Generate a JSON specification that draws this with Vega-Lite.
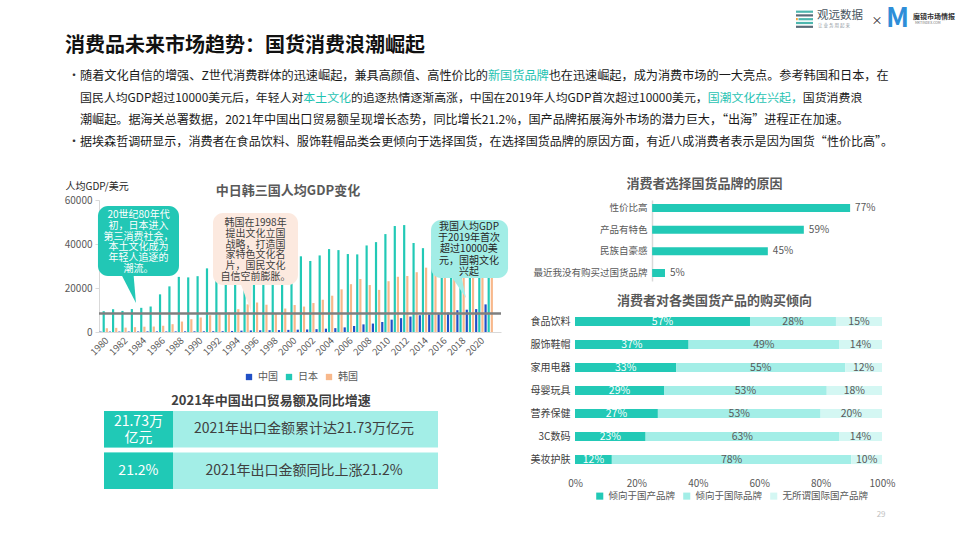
{
"$schema": "https://vega.github.io/schema/vega-lite/v6.json",
"background": "white",
"padding": {"left": 64, "top": 5, "right": 5, "bottom": 5},
"config": {"font": "Noto Sans CJK SC", "view": {"stroke": null}, "title": {"font": "Noto Sans CJK SC"}, "axis": {"labelFont": "Noto Sans CJK SC", "titleFont": "Noto Sans CJK SC"}, "legend": {"labelFont": "Noto Sans CJK SC"}},
"spacing": 17,
"resolve": {"scale": {"color": "independent", "stroke": "independent"}, "legend": {"color": "independent"}},
"vconcat": [
{
 "width": 852, "height": 155,
 "data": {"values": [
  {"line": 1, "seg": "n", "t": "随着文化自信的增强、Z世代消费群体的迅速崛起，兼具高颜值、高性价比的新国货品牌也在迅速崛起，成为消费市场的一大亮点。参考韩国和日本，在"},
  {"line": 1, "seg": "w", "t": "随着文化自信的增强、Z世代消费群体的迅速崛起，兼具高颜值、高性价比的新国货品牌"},
  {"line": 1, "seg": "h", "t": "随着文化自信的增强、Z世代消费群体的迅速崛起，兼具高颜值、高性价比的新国货品牌"},
  {"line": 1, "seg": "w", "t": "随着文化自信的增强、Z世代消费群体的迅速崛起，兼具高颜值、高性价比的"},
  {"line": 1, "seg": "n", "t": "随着文化自信的增强、Z世代消费群体的迅速崛起，兼具高颜值、高性价比的"},
  {"line": 2, "seg": "n", "t": "国民人均GDP超过10000美元后，年轻人对本土文化的追逐热情逐渐高涨，中国在2019年人均GDP首次超过10000美元，国潮文化在兴起，国货消费浪"},
  {"line": 2, "seg": "w", "t": "国民人均GDP超过10000美元后，年轻人对本土文化的追逐热情逐渐高涨，中国在2019年人均GDP首次超过10000美元，国潮文化在兴起，"},
  {"line": 2, "seg": "h", "t": "国民人均GDP超过10000美元后，年轻人对本土文化的追逐热情逐渐高涨，中国在2019年人均GDP首次超过10000美元，国潮文化在兴起，"},
  {"line": 2, "seg": "w", "t": "国民人均GDP超过10000美元后，年轻人对本土文化的追逐热情逐渐高涨，中国在2019年人均GDP首次超过10000美元，"},
  {"line": 2, "seg": "n", "t": "国民人均GDP超过10000美元后，年轻人对本土文化的追逐热情逐渐高涨，中国在2019年人均GDP首次超过10000美元，"},
  {"line": 2, "seg": "w", "t": "国民人均GDP超过10000美元后，年轻人对本土文化"},
  {"line": 2, "seg": "h", "t": "国民人均GDP超过10000美元后，年轻人对本土文化"},
  {"line": 2, "seg": "w", "t": "国民人均GDP超过10000美元后，年轻人对"},
  {"line": 2, "seg": "n", "t": "国民人均GDP超过10000美元后，年轻人对"},
  {"line": 3, "seg": "n", "t": "潮崛起。据海关总署数据，2021年中国出口贸易额呈现增长态势，同比增长21.2%，国产品牌拓展海外市场的潜力巨大，“出海”进程正在加速。"},
  {"line": 4, "seg": "n", "t": "据埃森哲调研显示，消费者在食品饮料、服饰鞋帽品类会更倾向于选择国货，在选择国货品牌的原因方面，有近八成消费者表示是因为国货“性价比高”。"}
 ]},
 "layer": [
  {"data": {"values": [{}]}, "mark": {"type": "text", "text": "消费品未来市场趋势：国货消费浪潮崛起", "fontSize": 20, "fontWeight": "bold", "align": "left", "baseline": "middle", "color": "#111111"},
   "encoding": {"x": {"datum": 1, "type": "quantitative", "scale": {"domain": [35, 887], "nice": false, "zero": false}, "axis": null}, "y": {"datum": 40, "type": "quantitative", "scale": {"domain": [0, 155], "nice": false, "zero": false, "reverse": true}, "axis": null}}},
  {"data": {"values": [{}]}, "mark": {"type": "text", "text": "•", "fontSize": 12, "align": "left", "baseline": "middle", "color": "#333333"},
   "encoding": {"x": {"datum": 4, "type": "quantitative"}, "y": {"datum": 70, "type": "quantitative"}}},
  {"data": {"values": [{}]}, "mark": {"type": "text", "text": "•", "fontSize": 12, "align": "left", "baseline": "middle", "color": "#333333"},
   "encoding": {"x": {"datum": 4, "type": "quantitative"}, "y": {"datum": 136, "type": "quantitative"}}},
  {"transform": [{"filter": "datum.line == 1"}], "mark": {"type": "text", "align": "left", "baseline": "middle", "fontSize": 12.15, "strokeWidth": 1.4},
   "encoding": {"x": {"datum": 16, "type": "quantitative"}, "y": {"datum": 70, "type": "quantitative"}, "text": {"field": "t"},
    "color": {"field": "seg", "type": "nominal", "scale": {"domain": ["n", "h", "w"], "range": ["#1a1a1a", "#1FC3B2", "#FFFFFF"]}, "legend": null},
    "stroke": {"field": "seg", "type": "nominal", "scale": {"domain": ["n", "h", "w"], "range": ["transparent", "transparent", "#FFFFFF"]}, "legend": null}}},
  {"transform": [{"filter": "datum.line == 2"}], "mark": {"type": "text", "align": "left", "baseline": "middle", "fontSize": 11.9, "strokeWidth": 1.4},
   "encoding": {"x": {"datum": 16, "type": "quantitative"}, "y": {"datum": 92, "type": "quantitative"}, "text": {"field": "t"},
    "color": {"field": "seg", "type": "nominal", "legend": null},
    "stroke": {"field": "seg", "type": "nominal", "legend": null}}},
  {"transform": [{"filter": "datum.line == 3"}], "mark": {"type": "text", "align": "left", "baseline": "middle", "fontSize": 12.1},
   "encoding": {"x": {"datum": 16, "type": "quantitative"}, "y": {"datum": 114, "type": "quantitative"}, "text": {"field": "t"}, "color": {"field": "seg", "type": "nominal", "legend": null}}},
  {"transform": [{"filter": "datum.line == 4"}], "mark": {"type": "text", "align": "left", "baseline": "middle", "fontSize": 12.05},
   "encoding": {"x": {"datum": 16, "type": "quantitative"}, "y": {"datum": 136, "type": "quantitative"}, "text": {"field": "t"}, "color": {"field": "seg", "type": "nominal", "legend": null}}},
  {"data": {"values": [{}]}, "mark": {"type": "rule", "color": "#4DB6AE", "strokeWidth": 2.2}, "encoding": {"x": {"datum": 732, "type": "quantitative"}, "x2": {"datum": 749}, "y": {"datum": 5.7, "type": "quantitative"}}},
  {"data": {"values": [{}]}, "mark": {"type": "rule", "color": "#5A6B78", "strokeWidth": 2.2}, "encoding": {"x": {"datum": 732, "type": "quantitative"}, "x2": {"datum": 749}, "y": {"datum": 9.4, "type": "quantitative"}}},
  {"data": {"values": [{}]}, "mark": {"type": "rule", "color": "#4DB6AE", "strokeWidth": 2.2}, "encoding": {"x": {"datum": 734.5, "type": "quantitative"}, "x2": {"datum": 749}, "y": {"datum": 13.2, "type": "quantitative"}}},
  {"data": {"values": [{}]}, "mark": {"type": "rule", "color": "#F2A23C", "strokeWidth": 2.2}, "encoding": {"x": {"datum": 732, "type": "quantitative"}, "x2": {"datum": 733.8}, "y": {"datum": 13.2, "type": "quantitative"}}},
  {"data": {"values": [{}]}, "mark": {"type": "rule", "color": "#4DB6AE", "strokeWidth": 2.2}, "encoding": {"x": {"datum": 732, "type": "quantitative"}, "x2": {"datum": 749}, "y": {"datum": 17, "type": "quantitative"}}},
  {"data": {"values": [{}]}, "mark": {"type": "rule", "color": "#5A6B78", "strokeWidth": 2.2}, "encoding": {"x": {"datum": 732, "type": "quantitative"}, "x2": {"datum": 749}, "y": {"datum": 20.8, "type": "quantitative"}}},
  {"data": {"values": [{}]}, "mark": {"type": "text", "text": "观远数据", "fontSize": 11.5, "align": "left", "baseline": "middle", "color": "#475560"}, "encoding": {"x": {"datum": 753, "type": "quantitative"}, "y": {"datum": 10, "type": "quantitative"}}},
  {"data": {"values": [{}]}, "mark": {"type": "text", "text": "让 业 务 用 起 来", "fontSize": 4.5, "align": "left", "baseline": "middle", "color": "#8A949C"}, "encoding": {"x": {"datum": 754, "type": "quantitative"}, "y": {"datum": 19.5, "type": "quantitative"}}},
  {"data": {"values": [{}]}, "mark": {"type": "text", "text": "×", "fontSize": 11, "align": "center", "baseline": "middle", "color": "#222222"}, "encoding": {"x": {"datum": 813, "type": "quantitative"}, "y": {"datum": 15.5, "type": "quantitative"}}},
  {"data": {"values": [{}]}, "mark": {"type": "text", "text": "M", "fontSize": 27, "fontWeight": "bold", "align": "center", "baseline": "middle", "color": "#2E8ED8"}, "encoding": {"x": {"datum": 833.5, "type": "quantitative"}, "y": {"datum": 13, "type": "quantitative"}}},
  {"data": {"values": [{}]}, "mark": {"type": "text", "text": "魔镜市场情报", "fontSize": 7, "fontWeight": "bold", "align": "left", "baseline": "middle", "color": "#333333"}, "encoding": {"x": {"datum": 849, "type": "quantitative"}, "y": {"datum": 10.7, "type": "quantitative"}}},
  {"data": {"values": [{}]}, "mark": {"type": "text", "text": "MKTINDEX.COM", "fontSize": 3.5, "align": "left", "baseline": "middle", "color": "#777777"}, "encoding": {"x": {"datum": 851, "type": "quantitative"}, "y": {"datum": 17, "type": "quantitative"}}}
 ]
},
{
 "spacing": 21,
 "resolve": {"scale": {"color": "independent"}, "legend": {"color": "independent"}},
 "hconcat": [
  {
   "spacing": 38,
   "vconcat": [
    {
     "width": 402, "height": 132,
     "title": {"text": "中日韩三国人均GDP变化", "fontSize": 13, "fontWeight": "bold", "color": "#595959", "anchor": "middle", "frame": "group", "dx": -12, "offset": -17},
     "layer": [
      {"data": {"values": [
       {"year":1980,"country":"中国","gdp":195},{"year":1980,"country":"日本","gdp":9463},{"year":1980,"country":"韩国","gdp":1715},
       {"year":1981,"country":"中国","gdp":197},{"year":1981,"country":"日本","gdp":10361},{"year":1981,"country":"韩国","gdp":1883},
       {"year":1982,"country":"中国","gdp":203},{"year":1982,"country":"日本","gdp":9578},{"year":1982,"country":"韩国","gdp":1993},
       {"year":1983,"country":"中国","gdp":225},{"year":1983,"country":"日本","gdp":10425},{"year":1983,"country":"韩国","gdp":2199},
       {"year":1984,"country":"中国","gdp":251},{"year":1984,"country":"日本","gdp":10984},{"year":1984,"country":"韩国","gdp":2413},
       {"year":1985,"country":"中国","gdp":294},{"year":1985,"country":"日本","gdp":11585},{"year":1985,"country":"韩国","gdp":2482},
       {"year":1986,"country":"中国","gdp":282},{"year":1986,"country":"日本","gdp":17112},{"year":1986,"country":"韩国","gdp":2835},
       {"year":1987,"country":"中国","gdp":252},{"year":1987,"country":"日本","gdp":20745},{"year":1987,"country":"韩国","gdp":3555},
       {"year":1988,"country":"中国","gdp":284},{"year":1988,"country":"日本","gdp":25052},{"year":1988,"country":"韩国","gdp":4754},
       {"year":1989,"country":"中国","gdp":311},{"year":1989,"country":"日本","gdp":24823},{"year":1989,"country":"韩国","gdp":5817},
       {"year":1990,"country":"中国","gdp":318},{"year":1990,"country":"日本","gdp":25371},{"year":1990,"country":"韩国","gdp":6610},
       {"year":1991,"country":"中国","gdp":333},{"year":1991,"country":"日本","gdp":28925},{"year":1991,"country":"韩国","gdp":7637},
       {"year":1992,"country":"中国","gdp":366},{"year":1992,"country":"日本","gdp":31465},{"year":1992,"country":"韩国","gdp":8127},
       {"year":1993,"country":"中国","gdp":377},{"year":1993,"country":"日本","gdp":35766},{"year":1993,"country":"韩国","gdp":8885},
       {"year":1994,"country":"中国","gdp":473},{"year":1994,"country":"日本","gdp":39269},{"year":1994,"country":"韩国","gdp":10385},
       {"year":1995,"country":"中国","gdp":610},{"year":1995,"country":"日本","gdp":44198},{"year":1995,"country":"韩国","gdp":12565},
       {"year":1996,"country":"中国","gdp":709},{"year":1996,"country":"日本","gdp":38437},{"year":1996,"country":"韩国","gdp":13403},
       {"year":1997,"country":"中国","gdp":782},{"year":1997,"country":"日本","gdp":35022},{"year":1997,"country":"韩国","gdp":12398},
       {"year":1998,"country":"中国","gdp":829},{"year":1998,"country":"日本","gdp":31903},{"year":1998,"country":"韩国","gdp":8282},
       {"year":1999,"country":"中国","gdp":873},{"year":1999,"country":"日本","gdp":36027},{"year":1999,"country":"韩国","gdp":10672},
       {"year":2000,"country":"中国","gdp":959},{"year":2000,"country":"日本","gdp":39169},{"year":2000,"country":"韩国","gdp":12257},
       {"year":2001,"country":"中国","gdp":1053},{"year":2001,"country":"日本","gdp":34406},{"year":2001,"country":"韩国","gdp":11561},
       {"year":2002,"country":"中国","gdp":1149},{"year":2002,"country":"日本","gdp":32289},{"year":2002,"country":"韩国","gdp":13165},
       {"year":2003,"country":"中国","gdp":1289},{"year":2003,"country":"日本","gdp":34808},{"year":2003,"country":"韩国","gdp":14673},
       {"year":2004,"country":"中国","gdp":1509},{"year":2004,"country":"日本","gdp":37688},{"year":2004,"country":"韩国","gdp":16496},
       {"year":2005,"country":"中国","gdp":1753},{"year":2005,"country":"日本","gdp":37218},{"year":2005,"country":"韩国","gdp":19403},
       {"year":2006,"country":"中国","gdp":2099},{"year":2006,"country":"日本","gdp":35434},{"year":2006,"country":"韩国","gdp":21743},
       {"year":2007,"country":"中国","gdp":2694},{"year":2007,"country":"日本","gdp":35275},{"year":2007,"country":"韩国","gdp":24086},
       {"year":2008,"country":"中国","gdp":3468},{"year":2008,"country":"日本","gdp":39339},{"year":2008,"country":"韩国","gdp":21350},
       {"year":2009,"country":"中国","gdp":3832},{"year":2009,"country":"日本","gdp":40855},{"year":2009,"country":"韩国","gdp":19144},
       {"year":2010,"country":"中国","gdp":4550},{"year":2010,"country":"日本","gdp":44508},{"year":2010,"country":"韩国","gdp":23087},
       {"year":2011,"country":"中国","gdp":5614},{"year":2011,"country":"日本","gdp":48168},{"year":2011,"country":"韩国","gdp":25100},
       {"year":2012,"country":"中国","gdp":6301},{"year":2012,"country":"日本","gdp":48603},{"year":2012,"country":"韩国","gdp":25459},
       {"year":2013,"country":"中国","gdp":7020},{"year":2013,"country":"日本","gdp":40454},{"year":2013,"country":"韩国","gdp":27180},
       {"year":2014,"country":"中国","gdp":7636},{"year":2014,"country":"日本","gdp":38109},{"year":2014,"country":"韩国","gdp":29253},
       {"year":2015,"country":"中国","gdp":8016},{"year":2015,"country":"日本","gdp":34524},{"year":2015,"country":"韩国","gdp":28737},
       {"year":2016,"country":"中国","gdp":8094},{"year":2016,"country":"日本","gdp":38794},{"year":2016,"country":"韩国","gdp":29274},
       {"year":2017,"country":"中国","gdp":8817},{"year":2017,"country":"日本","gdp":38387},{"year":2017,"country":"韩国","gdp":31601},
       {"year":2018,"country":"中国","gdp":9905},{"year":2018,"country":"日本","gdp":39159},{"year":2018,"country":"韩国","gdp":33447},
       {"year":2019,"country":"中国","gdp":10144},{"year":2019,"country":"日本","gdp":40247},{"year":2019,"country":"韩国","gdp":31902},
       {"year":2020,"country":"中国","gdp":10409},{"year":2020,"country":"日本","gdp":40193},{"year":2020,"country":"韩国","gdp":31721},
       {"year":2021,"country":"中国","gdp":12556},{"year":2021,"country":"日本","gdp":39312},{"year":2021,"country":"韩国","gdp":34998}
      ]},
       "mark": {"type": "bar"},
       "encoding": {
        "x": {"field": "year", "type": "ordinal", "scale": {"paddingInner": 0, "paddingOuter": 0.405, "align": 0},
              "axis": {"values": [1980,1982,1984,1986,1988,1990,1992,1994,1996,1998,2000,2002,2004,2006,2008,2010,2012,2014,2016,2018,2020], "labelAngle": -45, "labelFontSize": 9.5, "labelColor": "#595959", "ticks": false, "domainColor": "#D9D9D9", "title": null, "labelPadding": 3}},
        "xOffset": {"field": "country", "type": "nominal", "scale": {"domain": ["中国", "日本", "韩国"], "paddingInner": 0.3, "paddingOuter": 0.15}},
        "y": {"field": "gdp", "type": "quantitative", "scale": {"domain": [0, 60000], "nice": false},
              "axis": {"values": [0,10000,20000,30000,40000,50000,60000], "format": "d", "labelFontSize": 10, "labelColor": "#595959", "grid": false, "domainColor": "#D9D9D9", "tickColor": "#D9D9D9", "tickSize": 4, "labelPadding": 3, "title": "人均GDP/美元", "titleAngle": 0, "titleX": -34, "titleY": -14, "titleAlign": "left", "titleBaseline": "middle", "titleFontSize": 10, "titleFontWeight": "normal", "titleColor": "#262626"}},
        "color": {"field": "country", "type": "nominal", "scale": {"domain": ["中国", "日本", "韩国"], "range": ["#2150C6", "#22C9B6", "#F8B88B"]},
                  "legend": {"orient": "none", "legendX": 145, "legendY": 172, "direction": "horizontal", "title": null, "symbolType": "square", "symbolSize": 40, "symbolStrokeWidth": 0, "labelFontSize": 10, "labelColor": "#595959", "columnPadding": 6}}
       }},
      {"data": {"values": [{}]}, "mark": {"type": "rule", "color": "#7F7F7F", "strokeWidth": 2.5}, "encoding": {"y": {"datum": 8400, "type": "quantitative"}}},
      {"data": {"values": [{}]}, "mark": {"type": "rect", "color": "#22C7B5", "cornerRadius": 10},
       "encoding": {"x": {"datum": 1979.39, "type": "quantitative", "scale": {"domain": [1979.5, 2022.31], "nice": false, "zero": false}, "axis": null}, "x2": {"datum": 1988.02}, "y": {"datum": 57270, "type": "quantitative"}, "y2": {"datum": 25450}}},
      {"data": {"values": [{}]}, "mark": {"type": "point", "shape": "M-0.514,-1L0.343,-1L0.514,1Z", "size": 1225, "filled": true, "opacity": 1, "color": "#22C7B5", "strokeWidth": 0},
       "encoding": {"x": {"datum": 1982.48, "type": "quantitative", "scale": {"domain": [1979.5, 2022.31], "nice": false, "zero": false}, "axis": null}, "y": {"datum": 21134, "type": "quantitative"}}},
      {"data": {"values": [{}]}, "mark": {"type": "rect", "color": "#FCE9DF", "cornerRadius": 10},
       "encoding": {"x": {"datum": 1991.64, "type": "quantitative", "scale": {"domain": [1979.5, 2022.31], "nice": false, "zero": false}, "axis": null}, "x2": {"datum": 2000.69}, "y": {"datum": 54090, "type": "quantitative"}, "y2": {"datum": 21360}}},
      {"data": {"values": [{}]}, "mark": {"type": "point", "shape": "M-0.41,-1L0.41,-1L0.35,1Z", "size": 1156, "filled": true, "opacity": 1, "color": "#FCE9DF", "strokeWidth": 0},
       "encoding": {"x": {"datum": 1995.05, "type": "quantitative", "scale": {"domain": [1979.5, 2022.31], "nice": false, "zero": false}, "axis": null}, "y": {"datum": 17271, "type": "quantitative"}}},
      {"data": {"values": [{}]}, "mark": {"type": "rect", "color": "#A2EDE6", "cornerRadius": 10},
       "encoding": {"x": {"datum": 2014.86, "type": "quantitative", "scale": {"domain": [1979.5, 2022.31], "nice": false, "zero": false}, "axis": null}, "x2": {"datum": 2023.06}, "y": {"datum": 50900, "type": "quantitative"}, "y2": {"datum": 24540}}},
      {"data": {"values": [{}]}, "mark": {"type": "point", "shape": "M-0.68,-1L0.25,-1L0.68,1Z", "size": 784, "filled": true, "opacity": 1, "color": "#A2EDE6", "strokeWidth": 0},
       "encoding": {"x": {"datum": 2017.57, "type": "quantitative", "scale": {"domain": [1979.5, 2022.31], "nice": false, "zero": false}, "axis": null}, "y": {"datum": 21816, "type": "quantitative"}}},
      {"data": {"values": [{}]}, "mark": {"type": "text", "text": ["20世纪80年代", "初，日本进入", "第三消费社会，", "本土文化成为", "年轻人追逐的", "潮流。"], "fontSize": 10, "lineHeight": 10.8, "align": "center", "baseline": "middle", "color": "#FFFFFF"},
       "encoding": {"x": {"datum": 1983.71, "type": "quantitative", "scale": {"domain": [1979.5, 2022.31], "nice": false, "zero": false}, "axis": null}, "y": {"datum": 53180, "type": "quantitative"}}},
      {"data": {"values": [{}]}, "mark": {"type": "text", "text": ["韩国在1998年", "提出文化立国", "战略，打造国", "家特色文化名", "片，国民文化", "自信空前膨胀。"], "fontSize": 10, "lineHeight": 10.8, "align": "center", "baseline": "middle", "color": "#404040"},
       "encoding": {"x": {"datum": 1996.17, "type": "quantitative", "scale": {"domain": [1979.5, 2022.31], "nice": false, "zero": false}, "axis": null}, "y": {"datum": 49540, "type": "quantitative"}}},
      {"data": {"values": [{}]}, "mark": {"type": "text", "text": ["我国人均GDP", "于2019年首次", "超过10000美", "元，国朝文化", "兴起"], "fontSize": 10, "lineHeight": 11.2, "align": "center", "baseline": "middle", "color": "#262626"},
       "encoding": {"x": {"datum": 2018.9, "type": "quantitative", "scale": {"domain": [1979.5, 2022.31], "nice": false, "zero": false}, "axis": null}, "y": {"datum": 47720, "type": "quantitative"}}}
     ],
     "resolve": {"scale": {"x": "independent"}}
    },
    {
     "width": 339, "height": 78,
     "title": {"text": "2021年中国出口贸易额及同比增速", "fontSize": 13, "fontWeight": "bold", "color": "#404040", "anchor": "middle", "frame": "group", "dx": 2.5, "offset": 3},
     "data": {"values": [
      {"item": "21.73万\n亿元", "desc": "2021年出口金额累计达21.73万亿元"},
      {"item": "21.2%", "desc": "2021年出口金额同比上涨21.2%"}
     ]},
     "encoding": {"y": {"field": "desc", "type": "nominal", "sort": null, "axis": null, "scale": {"paddingInner": 0.12, "paddingOuter": 0}}},
     "layer": [
      {"mark": {"type": "rect", "color": "#A3EEE7"}, "encoding": {"x": {"datum": 0, "type": "quantitative", "scale": {"domain": [-1.5, 100], "nice": false, "zero": false}, "axis": null}, "x2": {"datum": 100}}},
      {"mark": {"type": "rect", "color": "#20C9B6"}, "encoding": {"x": {"datum": 0, "type": "quantitative"}, "x2": {"datum": 20.66}}},
      {"transform": [{"filter": "datum.item == '21.2%'"}], "mark": {"type": "text", "color": "#FFFFFF", "fontSize": 14, "baseline": "middle"}, "encoding": {"x": {"datum": 10.3, "type": "quantitative"}, "text": {"field": "item"}}},
      {"transform": [{"filter": "datum.item != '21.2%'"}], "mark": {"type": "text", "color": "#FFFFFF", "fontSize": 14, "lineBreak": "\n", "lineHeight": 16, "baseline": "middle", "dy": -7}, "encoding": {"x": {"datum": 10.3, "type": "quantitative"}, "text": {"field": "item"}}},
      {"mark": {"type": "text", "color": "#404040", "fontSize": 14, "baseline": "middle"}, "encoding": {"x": {"datum": 59.9, "type": "quantitative"}, "text": {"field": "desc"}}}
     ]
    }
   ]
  },
  {
   "spacing": 14,
   "vconcat": [
    {
     "width": 307, "height": 81,
     "title": {"text": "消费者选择国货品牌的原因", "fontSize": 13, "fontWeight": "bold", "color": "#595959", "anchor": "middle", "frame": "group", "dx": -24, "offset": 9},
     "data": {"values": [
      {"reason": "性价比高", "share": 0.77},
      {"reason": "产品有特色", "share": 0.59},
      {"reason": "民族自豪感", "share": 0.45},
      {"reason": "最近我没有购买过国货品牌", "share": 0.05}
     ]},
     "encoding": {
      "y": {"field": "reason", "type": "nominal", "sort": null, "scale": {"paddingInner": 0.63, "paddingOuter": 0.185},
            "axis": {"title": null, "offset": -77, "ticks": false, "labelFontSize": 9.5, "labelColor": "#595959", "domainColor": "#D9D9D9", "domainWidth": 1.5, "labelPadding": 5}},
      "x": {"field": "share", "type": "quantitative", "scale": {"domain": [-0.3, 0.894], "nice": false, "zero": false}, "axis": null}
     },
     "layer": [
      {"mark": {"type": "bar", "color": "#22C9B6"}},
      {"mark": {"type": "text", "align": "left", "baseline": "middle", "dx": 5, "fontSize": 10, "color": "#595959"}, "encoding": {"text": {"field": "share", "type": "quantitative", "format": ".0%"}}}
     ]
    },
    {
     "width": 307, "height": 161,
     "title": {"text": "消费者对各类国货产品的购买倾向", "fontSize": 13, "fontWeight": "bold", "color": "#595959", "anchor": "middle", "frame": "group", "dx": -14, "offset": 2},
     "data": {"values": [
      {"category": "食品饮料", "type": "倾向于国产品牌", "share": 0.57}, {"category": "食品饮料", "type": "倾向于国际品牌", "share": 0.28}, {"category": "食品饮料", "type": "无所谓国际国产品牌", "share": 0.15},
      {"category": "服饰鞋帽", "type": "倾向于国产品牌", "share": 0.37}, {"category": "服饰鞋帽", "type": "倾向于国际品牌", "share": 0.49}, {"category": "服饰鞋帽", "type": "无所谓国际国产品牌", "share": 0.14},
      {"category": "家用电器", "type": "倾向于国产品牌", "share": 0.33}, {"category": "家用电器", "type": "倾向于国际品牌", "share": 0.55}, {"category": "家用电器", "type": "无所谓国际国产品牌", "share": 0.12},
      {"category": "母婴玩具", "type": "倾向于国产品牌", "share": 0.29}, {"category": "母婴玩具", "type": "倾向于国际品牌", "share": 0.53}, {"category": "母婴玩具", "type": "无所谓国际国产品牌", "share": 0.18},
      {"category": "营养保健", "type": "倾向于国产品牌", "share": 0.27}, {"category": "营养保健", "type": "倾向于国际品牌", "share": 0.53}, {"category": "营养保健", "type": "无所谓国际国产品牌", "share": 0.20},
      {"category": "3C数码", "type": "倾向于国产品牌", "share": 0.23}, {"category": "3C数码", "type": "倾向于国际品牌", "share": 0.63}, {"category": "3C数码", "type": "无所谓国际国产品牌", "share": 0.14},
      {"category": "美妆护肤", "type": "倾向于国产品牌", "share": 0.12}, {"category": "美妆护肤", "type": "倾向于国际品牌", "share": 0.78}, {"category": "美妆护肤", "type": "无所谓国际国产品牌", "share": 0.10}
     ]},
     "layer": [
      {"mark": {"type": "bar"},
       "encoding": {
        "y": {"field": "category", "type": "nominal", "sort": null, "scale": {"paddingInner": 0.6, "paddingOuter": 0.3},
              "axis": {"title": null, "ticks": false, "domain": false, "labelFontSize": 10, "labelColor": "#404040", "labelPadding": 5}},
        "x": {"field": "share", "type": "quantitative", "stack": "zero", "scale": {"domain": [0, 1], "nice": false},
              "axis": {"format": ".0%", "values": [0, 0.2, 0.4, 0.6, 0.8, 1], "title": null, "grid": false, "domain": false, "ticks": false, "labelFlush": false, "labelFontSize": 10, "labelColor": "#595959", "labelPadding": 7}},
        "order": {"field": "type", "sort": "ascending"},
        "color": {"field": "type", "type": "nominal", "scale": {"domain": ["倾向于国产品牌", "倾向于国际品牌", "无所谓国际国产品牌"], "range": ["#22C9B6", "#A3EEE7", "#D4F7F3"]},
                  "legend": {"orient": "none", "legendX": 20, "legendY": 291, "direction": "horizontal", "title": null, "symbolType": "square", "symbolSize": 50, "symbolStrokeWidth": 0, "labelFontSize": 9.5, "labelColor": "#595959", "columnPadding": 6}}
       }},
      {"mark": {"type": "text", "fontSize": 10.5, "baseline": "middle"},
       "encoding": {
        "y": {"field": "category", "type": "nominal", "sort": null},
        "x": {"field": "share", "type": "quantitative", "stack": "zero", "bandPosition": 0.5},
        "order": {"field": "type", "sort": "ascending"},
        "detail": {"field": "type", "type": "nominal"},
        "text": {"field": "share", "type": "quantitative", "format": ".0%"},
        "color": {"condition": {"test": "datum.type === '倾向于国产品牌'", "value": "#FFFFFF"}, "value": "#595959"}
       }},
      {"data": {"values": [{}]}, "mark": {"type": "text", "text": "29", "fontSize": 8, "color": "#BFBFBF", "dy": 124}, "encoding": {"x": {"datum": 0.997, "type": "quantitative"}}}
     ]
    }
   ]
  }
 ]
}
]
}
